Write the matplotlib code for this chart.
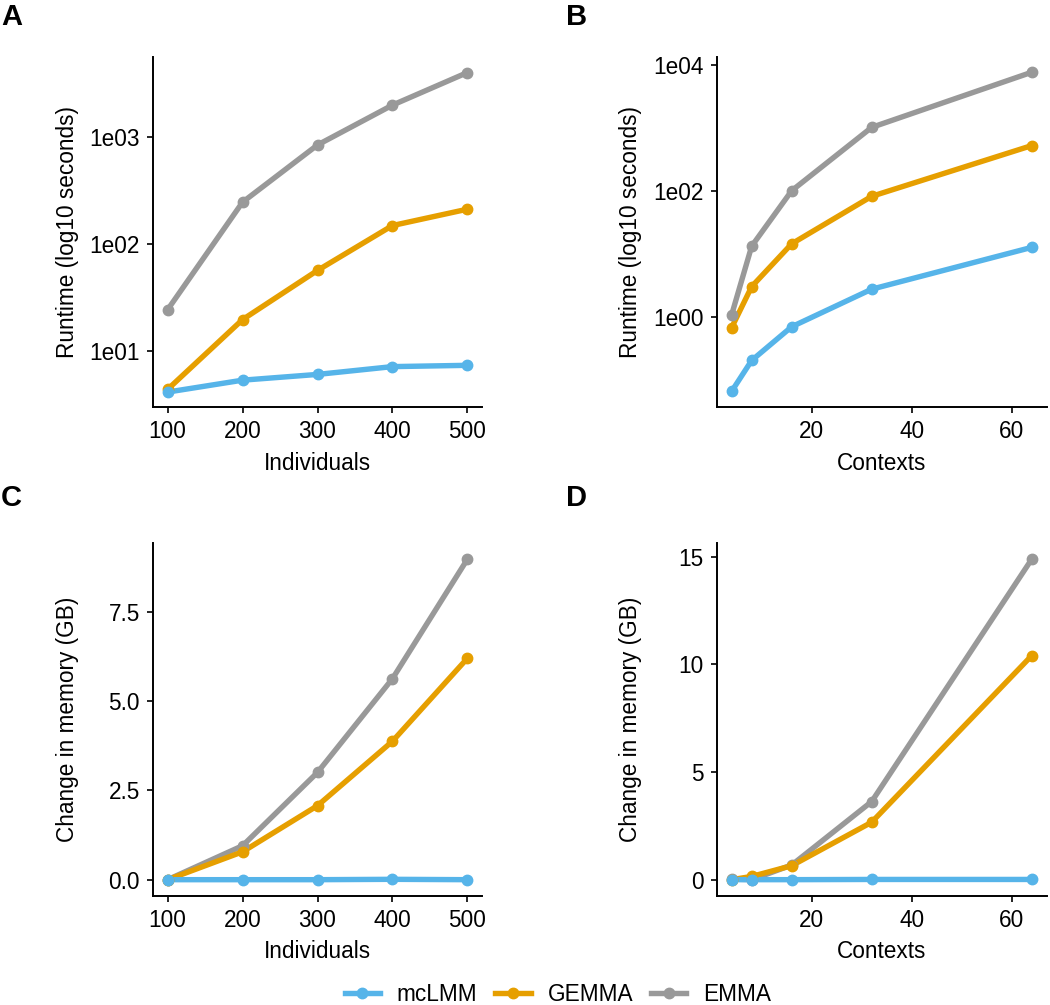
import matplotlib
matplotlib.use("Agg")
import matplotlib.pyplot as plt
from matplotlib.lines import Line2D

plt.rcParams['font.family'] = ['Liberation Sans', 'DejaVu Sans']

methods = ["mcLMM", "GEMMA", "EMMA"]
colors = {"mcLMM": "#56B4E9", "GEMMA": "#E69F00", "EMMA": "#999999"}

individuals = [100, 200, 300, 400, 500]
contexts = [4, 8, 16, 32, 64]

runtime_ind = {
    "mcLMM": [4.1, 5.3, 6.0, 7.1, 7.3],
    "GEMMA": [4.35, 19.6, 56.6, 149, 212],
    "EMMA": [24.3, 247, 848, 2004, 4045],
}
runtime_ctx = {
    "mcLMM": [0.066, 0.204, 0.70, 2.77, 12.8],
    "GEMMA": [0.68, 3.05, 14.6, 83, 532],
    "EMMA": [1.09, 13.4, 102, 1037, 7800],
}
memory_ind = {
    "mcLMM": [0.0, 0.0, 0.0, 0.01, 0.0],
    "GEMMA": [0.0, 0.78, 2.07, 3.87, 6.19],
    "EMMA": [0.0, 0.95, 3.0, 5.62, 8.96],
}
memory_ctx = {
    "mcLMM": [0.0, 0.0, 0.0, 0.01, 0.01],
    "GEMMA": [0.0, 0.15, 0.65, 2.67, 10.41],
    "EMMA": [0.03, 0.0, 0.68, 3.63, 14.89],
}

W, H = 1050, 1005
fig = plt.figure(figsize=(W / 100, H / 100), dpi=100)

FS = 16.3


def add_ax(x0, y0, x1, y1):
    return fig.add_axes([x0 / W, 1 - y1 / H, (x1 - x0) / W, (y1 - y0) / H])


def style(ax, xlabel, ylabel):
    for s in ["top", "right"]:
        ax.spines[s].set_visible(False)
    for s in ["left", "bottom"]:
        ax.spines[s].set_linewidth(1.4)
        ax.spines[s].set_color("black")
    ax.tick_params(axis="both", which="major", length=4.5, width=1.2,
                   labelsize=FS, colors="black", direction="out", pad=4.8)
    ax.minorticks_off()
    ax.set_xlabel(xlabel, fontsize=FS, labelpad=6)
    ax.set_ylabel(ylabel, fontsize=FS)
    ax.yaxis.set_label_coords(-0.225, 0.5)


def draw(ax, x, data):
    order = ["EMMA", "GEMMA", "mcLMM"]
    for i, m in enumerate(order):
        ax.plot(x, data[m], "-", color=colors[m], lw=3.9, zorder=2 + i,
                solid_capstyle="butt")
    for i, m in enumerate(order):
        ax.plot(x, data[m], "o", color=colors[m], ms=7.5, zorder=6 + i)


xl, xr = 152.7, 482.3
xl2, xr2 = 716.7, 1046.7
yt1, yb1 = 57.3, 407.3
yt2, yb2 = 543.3, 895.7

# A
axA = add_ax(xl, yt1, xr, yb1)
draw(axA, individuals, runtime_ind)
axA.set_yscale("log")
axA.set_xlim(80, 520)
axA.set_ylim(10 ** 0.47, 10 ** 3.75)
axA.set_yticks([10, 100, 1000])
axA.set_yticklabels(["1e01", "1e02", "1e03"])
axA.set_xticks(individuals)
style(axA, "Individuals", "Runtime (log10 seconds)")

# B
axB = add_ax(xl2, yt1, xr2, yb1)
draw(axB, contexts, runtime_ctx)
axB.set_yscale("log")
axB.set_xlim(1, 67)
axB.set_ylim(10 ** -1.436, 10 ** 4.13)
axB.set_yticks([1, 100, 10000])
axB.set_yticklabels(["1e00", "1e02", "1e04"])
axB.set_xticks([20, 40, 60])
style(axB, "Contexts", "Runtime (log10 seconds)")

# C
axC = add_ax(xl, yt2, xr, yb2)
draw(axC, individuals, memory_ind)
axC.set_xlim(80, 520)
axC.set_ylim(-0.448, 9.408)
axC.set_yticks([0, 2.5, 5.0, 7.5])
axC.set_yticklabels(["0.0", "2.5", "5.0", "7.5"])
axC.set_xticks(individuals)
style(axC, "Individuals", "Change in memory (GB)")

# D
axD = add_ax(xl2, yt2, xr2, yb2)
draw(axD, contexts, memory_ctx)
axD.set_xlim(1, 67)
axD.set_ylim(-0.745, 15.63)
axD.set_yticks([0, 5, 10, 15])
axD.set_xticks([20, 40, 60])
style(axD, "Contexts", "Change in memory (GB)")

# Panel letters
for lab, (px, py) in {"A": (1, 3), "B": (566, 3), "C": (1, 484), "D": (566, 484)}.items():
    fig.text(px / W, 1 - py / H, lab, fontsize=21, fontweight="bold",
             ha="left", va="top")

handles = [Line2D([0], [0], color=colors[m], lw=3.9, marker="o", ms=7.5)
           for m in methods]
fig.legend(handles, methods, loc="center", bbox_to_anchor=(558 / W, 1 - 994 / H),
           ncol=3, frameon=False, fontsize=FS, handlelength=1.55,
           columnspacing=0.8, handletextpad=0.75, borderpad=0.2)

fig.savefig("out.png", dpi=100)
